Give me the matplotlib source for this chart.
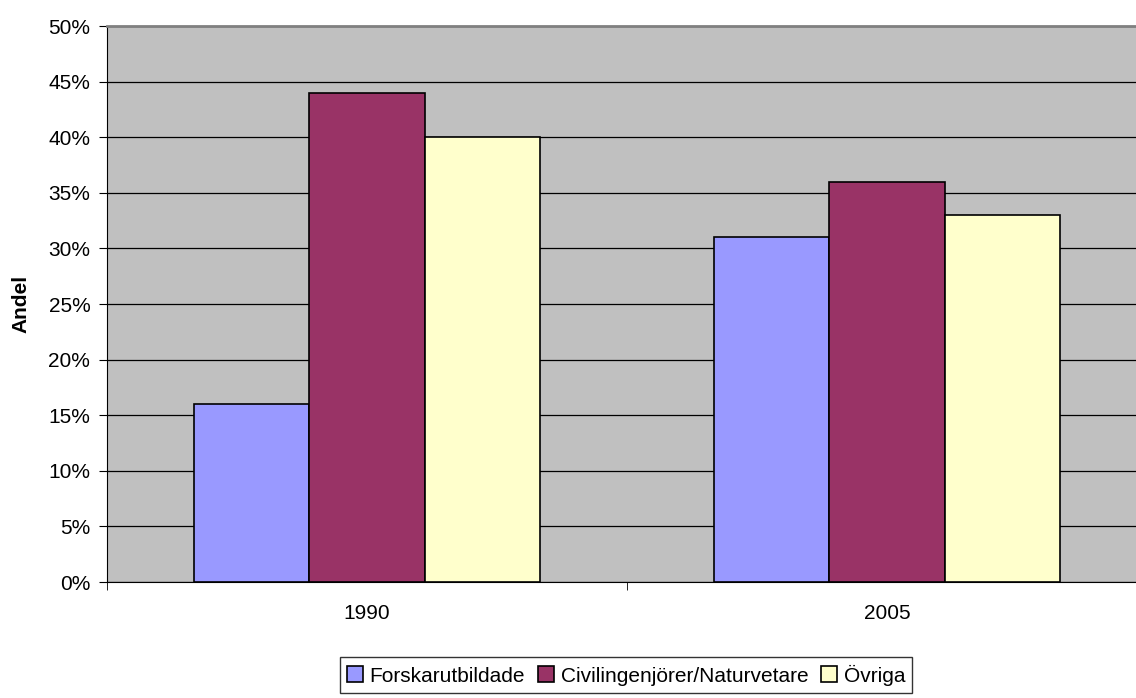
import matplotlib.pyplot as plt
import numpy as np

plt.rcParams['font.family'] = ['Liberation Sans', 'DejaVu Sans']

years = ['1990', '2005']
series = ['Forskarutbildade', 'Civilingenjörer/Naturvetare', 'Övriga']
forskar = [16, 31]
civing = [44, 36]
ovriga = [40, 33]
colors = ['#9999FF', '#993366', '#FFFFCC']
values = [forskar, civing, ovriga]

fig = plt.figure(figsize=(11.36, 6.98), dpi=100)
ax = fig.add_axes([107 / 1136, 1 - 582 / 698, 1040 / 1136, 556 / 698])
ax.set_facecolor('#C0C0C0')

x = np.arange(len(years))
w = 1 / 4.5
for i, (vals, c, name) in enumerate(zip(values, colors, series)):
    ax.bar(x + (i - 1) * w, vals, w, color=c, edgecolor='black', linewidth=1.2,
           label=name, zorder=3)

ax.set_xlim(-0.5, 1.5)
ax.set_ylim(0, 50)
ax.set_yticks(range(0, 51, 5))
ax.set_yticklabels([f'{v}%' for v in range(0, 51, 5)], fontsize=15)
ax.yaxis.grid(True, color='black', linewidth=0.9, zorder=1)
ax.set_axisbelow(True)

ax.set_xticks(x)
ax.set_xticklabels(years, fontsize=15)
ax.tick_params(axis='x', length=0, pad=16)
ax.set_xticks([-0.5, 0.5, 1.5], minor=True)
ax.tick_params(axis='x', which='minor', length=6, direction='out', color='black')
ax.tick_params(axis='y', length=6, direction='out', color='black', pad=6)

ax.set_ylabel('Andel', fontsize=15, fontweight='bold')
ax.yaxis.set_label_coords((30 - 107) / 1040, 0.5)

ax.spines['top'].set_color('#808080')
ax.spines['top'].set_linewidth(2)
ax.spines['left'].set_color('black')
ax.spines['bottom'].set_color('black')
ax.spines['right'].set_visible(False)

leg = fig.legend(loc='center', bbox_to_anchor=(626 / 1136, 1 - 675 / 698), ncol=3,
                 fontsize=15, frameon=True, fancybox=False, edgecolor='black',
                 handlelength=0.8, handleheight=0.8, handletextpad=0.3,
                 columnspacing=0.6, borderpad=0.35)
leg.get_frame().set_linewidth(1)

fig.savefig('out.png', dpi=100)
